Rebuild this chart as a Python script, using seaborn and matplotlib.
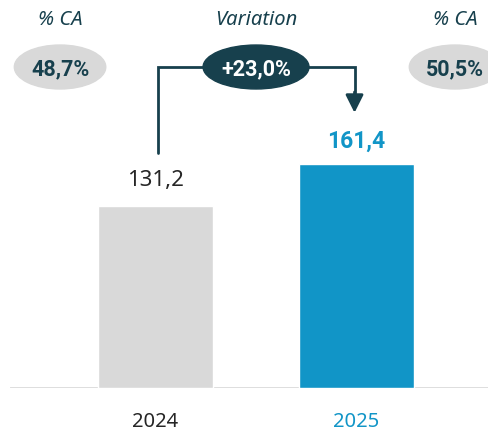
import matplotlib.pyplot as plt
import seaborn as sns
from matplotlib.patches import Ellipse

years = ["2024", "2025"]
ca = [131.2, 161.4]
pct_ca = [48.7, 50.5]
variation = 23.0

bar_colors = ["#d9d9d9", "#1195c7"]
label_colors = ["#262626", "#1195c7"]
dark = "#17404d"
grey = "#d9d9d9"
bold_font = dict(family=["Roboto", "DejaVu Sans"], fontweight="bold")


def fr(v, d=1):
    return f"{v:.{d}f}".replace(".", ",")


sns.set_theme(style="white")
plt.rcParams["font.family"] = ["Noto Sans", "DejaVu Sans"]

fig = plt.figure(figsize=(4.89, 4.33), dpi=100)
ax = fig.add_axes([10 / 489, 45 / 433, 479 / 489, 388 / 433])

sns.barplot(x=years, y=ca, hue=years, palette=bar_colors, width=0.572,
            legend=False, ax=ax, saturation=1, zorder=3)

ax.set_xlim(-0.724, 1.659)
ax.set_ylim(0, 279.7)
for s in ax.spines.values():
    s.set_visible(False)
ax.axhline(0, color="#d4d4d4", lw=1.8, zorder=2)
ax.set_yticks([])
ax.set_xlabel("")
ax.set_ylabel("")
ax.tick_params(axis="x", length=0, pad=17, labelsize=14.5)
for lbl, c in zip(ax.get_xticklabels(), label_colors):
    lbl.set_color(c)

# value labels
ax.text(0, ca[0] + 18.5, fr(ca[0]), ha="center", va="center", fontsize=16,
        color=label_colors[0])
ax.text(1, ca[1] + 16.5, fr(ca[1]), ha="center", va="center", fontsize=16.5,
        color=label_colors[1], **bold_font)

# header row
head_y = 265.3
pill_y = 231.4
for xc, txt in zip([-0.472, 0.5, 1.490], ["% CA", "Variation", "% CA"]):
    ax.text(xc, head_y, txt, ha="center", va="center", fontsize=14.5,
            style="italic", color=dark)

for xc, p in zip([-0.475, 1.49], pct_ca):
    ax.add_patch(Ellipse((xc, pill_y), 0.455, 31.7, color=grey, zorder=4,
                         clip_on=False))
    ax.text(xc, pill_y - 1.5, fr(p) + "%", ha="center", va="center",
            fontsize=15.5, color=dark, zorder=5, **bold_font)

# connector with arrow
y0 = ca[0] + 38
y1 = ca[1] + 37
ax.plot([0.01, 0.01, 0.99, 0.99], [y0, pill_y, pill_y, y1 + 14],
        color=dark, lw=2, solid_joinstyle="miter", zorder=3)
ax.annotate("", xy=(0.99, y1), xytext=(0.99, y1 + 15),
            arrowprops=dict(arrowstyle="-|>,head_length=0.9,head_width=0.45",
                            color=dark, lw=2, shrinkA=0, shrinkB=0))
ax.add_patch(Ellipse((0.5, pill_y), 0.527, 31.7, color=dark, zorder=4))
ax.text(0.5, pill_y - 1.5, f"+{fr(variation)}%", ha="center", va="center",
        fontsize=15.5, color="white", zorder=5, **bold_font)

fig.savefig("out.png", dpi=100)
